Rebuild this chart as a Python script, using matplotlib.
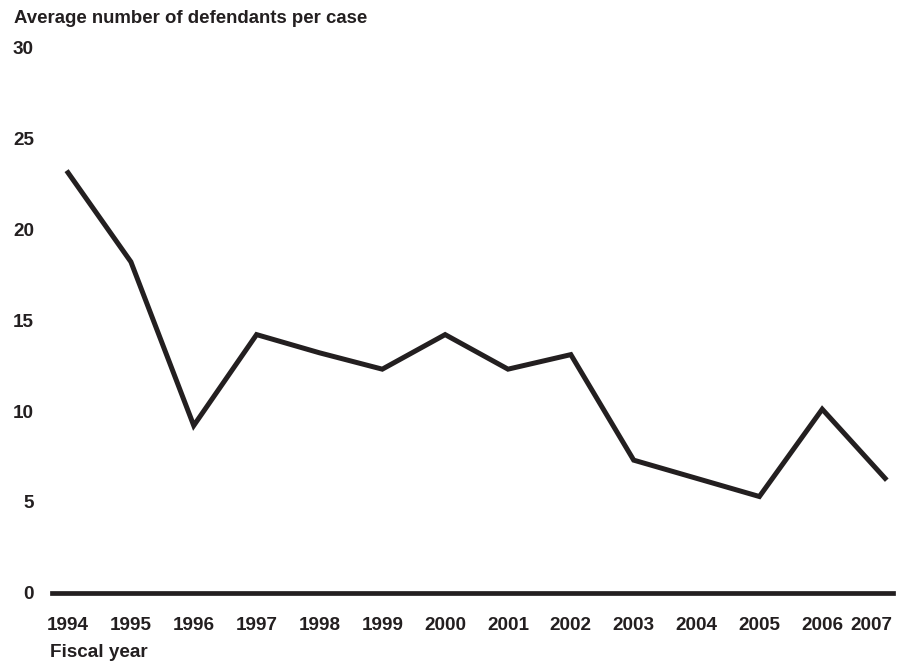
import matplotlib
matplotlib.use("Agg")
import matplotlib.pyplot as plt
from matplotlib.transforms import ScaledTranslation

plt.rcParams["font.family"] = ["Liberation Sans", "DejaVu Sans"]
plt.rcParams["font.weight"] = "bold"

years = [1994, 1995, 1996, 1997, 1998, 1999, 2000, 2001, 2002, 2003, 2004, 2005, 2006, 2007]
defendants = [23.1, 18.2, 9.2, 14.2, 13.2, 12.3, 14.2, 12.3, 13.1, 7.3, 6.3, 5.3, 10.1, 6.3]
y_ticks = [0, 5, 10, 15, 20, 25, 30]

ink = "#231f20"

fig = plt.figure(figsize=(9.03, 6.64), dpi=100)
ax = fig.add_axes([0.0576, 0.107, 0.9314, 0.822])

ax.plot(years, defendants, color=ink, linewidth=3.6, solid_joinstyle="miter")
ax.axhline(0, color=ink, linewidth=3.4, clip_on=False)

ax.set_xlim(1993.745, 2007.127)
ax.set_ylim(0, 30)

for s in ax.spines.values():
    s.set_visible(False)

ax.set_yticks(y_ticks)
ax.set_xticks(years)
ax.tick_params(axis="both", length=0, labelsize=13.6, labelcolor=ink)
ax.tick_params(axis="y", pad=13)
ax.tick_params(axis="x", pad=17)

# last year label sits flush with the end of the baseline
last = ax.get_xticklabels()[-1]
last.set_ha("right")
last.set_transform(last.get_transform() + ScaledTranslation(0.07, 0, fig.dpi_scale_trans))

fig.text(0.0155, 0.972, "Average number of defendants per case", fontsize=13.4,
         color=ink, ha="left", va="center", fontweight="bold")
fig.text(0.0554, 0.018, "Fiscal year", fontsize=13.6, color=ink,
         ha="left", va="center", fontweight="bold")

plt.savefig("out.png", dpi=100)
